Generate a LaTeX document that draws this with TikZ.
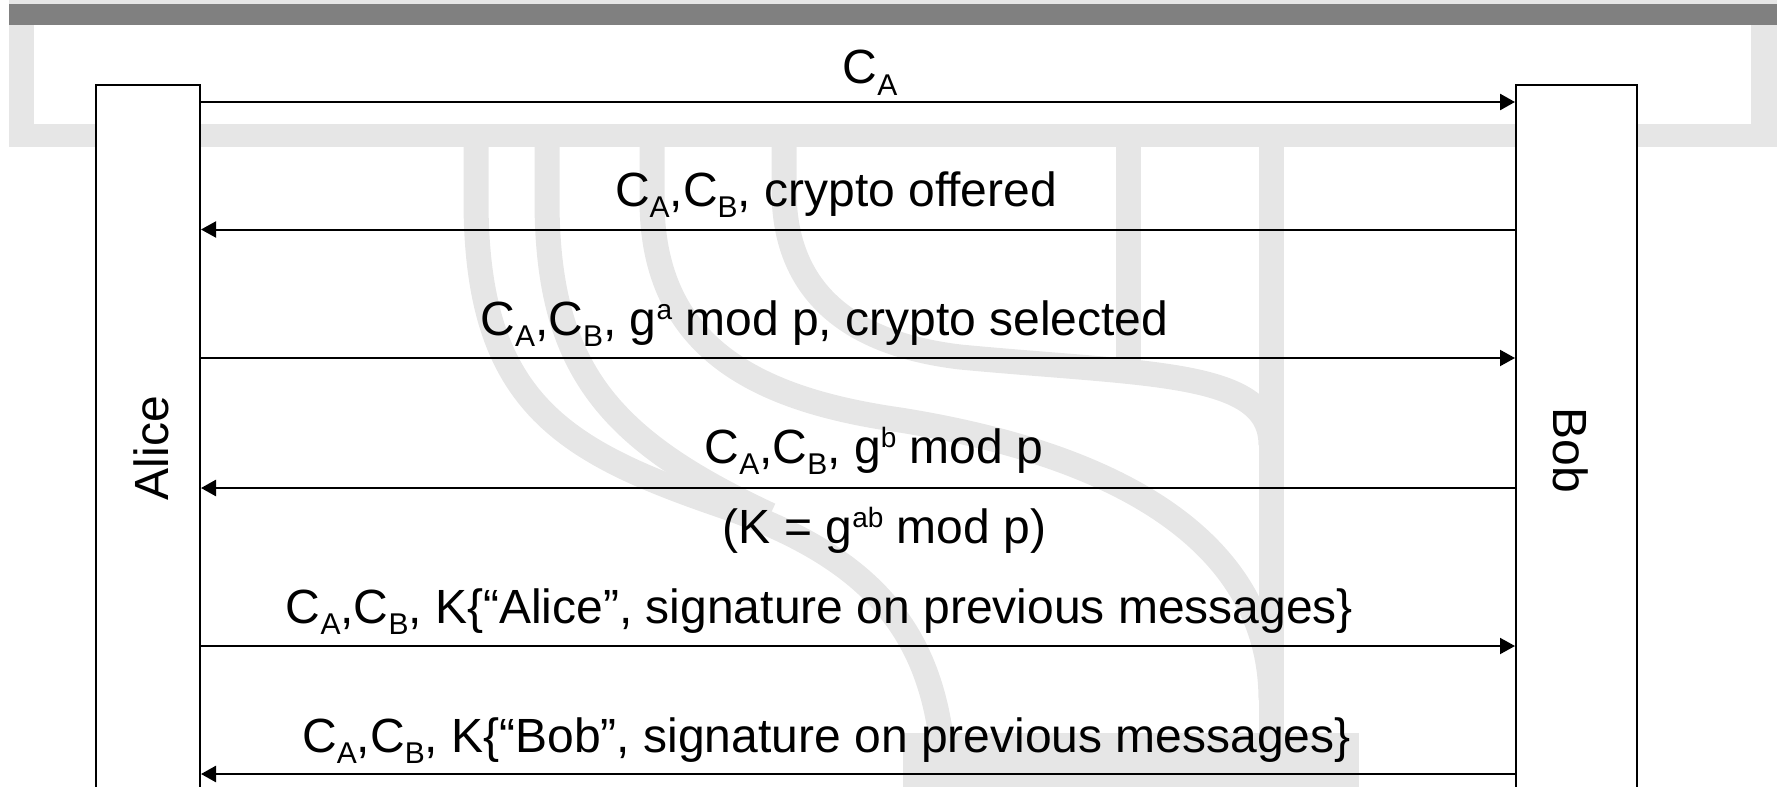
\documentclass[tikz,border=0pt]{standalone}
\usepackage{fontspec}
\setmainfont{Liberation Sans}
\usetikzlibrary{arrows.meta}
\definecolor{wm}{RGB}{230,230,230}
\definecolor{barc}{RGB}{128,128,128}
\newcommand\lsub[1]{\raisebox{-11bp}{\fontsize{30bp}{30bp}\selectfont #1}}
\newcommand\lsup[1]{\raisebox{16bp}{\fontsize{28bp}{28bp}\selectfont #1}}
\begin{document}
\begin{tikzpicture}[x=1bp,y=-1bp,
  lifeline/.style={draw=black, line width=2bp, fill=white, minimum width=104bp, minimum height=734bp, inner sep=0},
  lbl/.style={font=\fontsize{48bp}{56bp}\selectfont, anchor=base, inner sep=0},
  actor/.style={font=\fontsize{48bp}{56bp}\selectfont, inner sep=0},
  msg/.style={line width=2bp, -{Triangle[length=15bp,width=16bp]}},
  msgthick/.style={msg, line width=2.6bp},
  band/.style={draw=wm, line width=25bp, line cap=butt}]
\useasboundingbox (0,0) rectangle (1777,787);
% watermark
\fill[wm] (9,0) rectangle (1777,147);
\fill[white] (34,25) rectangle (1751,124);
\fill[barc] (9,4.5) rectangle (1777,25);
\fill[wm] (903,733) rectangle (1359,800);
\path[band] (1271,140) -- (1271,800);
\path[band] (1128,140) -- (1128,375);
\path[band] (784,140) -- (784,190) .. controls (784,300) and (860,345) .. (960,357) .. controls (1150,375) and (1271,370) .. (1271,445);
\path[band] (652,140) -- (652,200) .. controls (652,350) and (760,400) .. (900,420) .. controls (1150,460) and (1271,560) .. (1271,700);
\path[band] (547,140) -- (547,200) .. controls (547,370) and (610,440) .. (770,515);
\path[band] (476,140) -- (476,200) .. controls (476,400) and (560,450) .. (720,505) .. controls (880,560) and (945,640) .. (945,800);
% lifelines
\node[lifeline] (alice) at (148,452) {};
\node[lifeline, minimum width=121bp] (bob) at (1576.5,452) {};
\node[actor, rotate=90] (alicename) at (151,448) {Alice};
\node[actor, rotate=-90] (bobname) at (1571,450) {Bob};
% rows
\coordinate (r1) at (0,102);
\coordinate (r2) at (0,229.5);
\coordinate (r3) at (0,358);
\coordinate (r4) at (0,488);
\coordinate (r5) at (0,646);
\coordinate (r6) at (0,774);
\draw[msgthick] (alice.east |- r1) -- (bob.west |- r1);
\draw[msg] (bob.west |- r2) -- (alice.east |- r2);
\draw[msg] (alice.east |- r3) -- (bob.west |- r3);
\draw[msgthick] (bob.west |- r4) -- (alice.east |- r4);
\draw[msg] (alice.east |- r5) -- (bob.west |- r5);
\draw[msgthick] (bob.west |- r6) -- (alice.east |- r6);
% labels
\node[lbl] (l1) at (870,84) {C\lsub{A}};
\node[lbl] (l2) at (836,206) {C\lsub{A},C\lsub{B}, crypto offered};
\node[lbl] (l3) at (824.5,335) {C\lsub{A},C\lsub{B}, g\lsup{a} mod p, crypto selected};
\node[lbl] (l4) at (874,463) {C\lsub{A},C\lsub{B}, g\lsup{b} mod p};
\node[lbl] (l45) at (884.5,543) {(K = g\lsup{ab} mod p)};
\node[lbl] (l5) at (819.5,623) {C\lsub{A},C\lsub{B}, K\{“Alice”, signature on previous messages\}};
\node[lbl] (l6) at (826.5,752) {C\lsub{A},C\lsub{B}, K\{“Bob”, signature on previous messages\}};
\end{tikzpicture}
\end{document}
